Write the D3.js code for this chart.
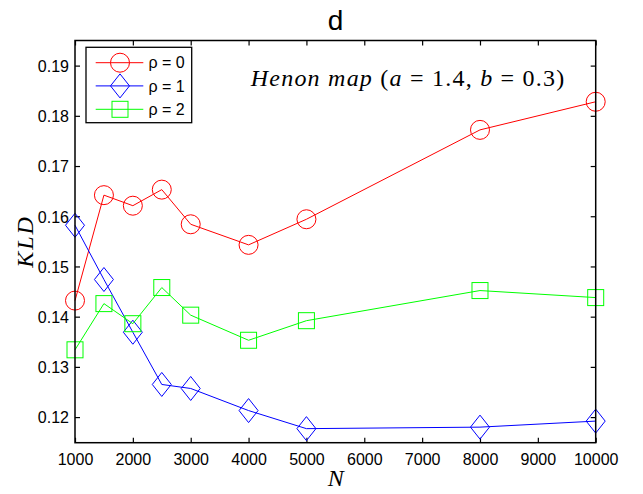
<!DOCTYPE html>
<html><head><meta charset="utf-8">
<script src="https://cdn.jsdelivr.net/npm/d3@7"></script>
<style>body{margin:0;background:#fff}svg{display:block}</style>
</head><body>
<svg id="c" width="643" height="494"></svg>
<script>
const N = [1000, 1500, 2000, 2500, 3000, 4000, 5000, 8000, 10000];
const rho0 = [0.1432, 0.1642, 0.1621, 0.1653, 0.1584, 0.1543, 0.1594, 0.1772, 0.1828];
const rho1 = [0.1582, 0.1474, 0.1369, 0.1265, 0.1257, 0.1213, 0.1177, 0.1180, 0.1192];
const rho2 = [0.1334, 0.1426, 0.1386, 0.1458, 0.1403, 0.1353, 0.1392, 0.1452, 0.1438];
const seriesNames = ["ρ = 0", "ρ = 1", "ρ = 2"];
const xTicks = [1000, 2000, 3000, 4000, 5000, 6000, 7000, 8000, 9000, 10000];
const yTicks = [0.12, 0.13, 0.14, 0.15, 0.16, 0.17, 0.18, 0.19];

const svg = d3.select("#c");
const L = 75, R = 595.7, T = 40.5, B = 442.7;
const x = d3.scaleLinear().domain([1000, 10000]).range([L, R]);
const y = d3.scaleLinear().domain([0.1149, 0.1950]).range([B, T]);

const series = [
  {name: seriesNames[0], vals: rho0, color: "#ff0000", marker: "circle"},
  {name: seriesNames[1], vals: rho1, color: "#0000ff", marker: "diamond"},
  {name: seriesNames[2], vals: rho2, color: "#00ff00", marker: "square"}
];

function drawMarker(g, type, cx, cy, color) {
  if (type === "circle") {
    g.append("circle").attr("cx", cx).attr("cy", cy).attr("r", 9.5)
      .attr("fill", "none").attr("stroke", color).attr("stroke-width", 1);
  } else if (type === "diamond") {
    g.append("path").attr("d", `M${cx},${cy-12}L${cx+9.5},${cy}L${cx},${cy+12}L${cx-9.5},${cy}Z`)
      .attr("fill", "none").attr("stroke", color).attr("stroke-width", 1);
  } else {
    g.append("rect").attr("x", cx-8).attr("y", cy-8).attr("width", 16).attr("height", 16)
      .attr("fill", "none").attr("stroke", color).attr("stroke-width", 1);
  }
}

// Title
svg.append("text").attr("x", 335.5).attr("y", 30).attr("text-anchor", "middle")
  .attr("font-family", "Liberation Sans, Arial, sans-serif").attr("font-size", 28).text("d");

// Axes
const fontTick = "Liberation Sans, Arial, sans-serif";
const gx = svg.append("g").attr("transform", `translate(0,${B})`)
  .call(d3.axisBottom(x).tickValues(xTicks).tickSize(-5).tickPadding(11).tickFormat(d3.format("d")));
const gxt = svg.append("g").attr("transform", `translate(0,${T})`)
  .call(d3.axisTop(x).tickValues(xTicks).tickSize(-5).tickFormat(""));
const gy = svg.append("g").attr("transform", `translate(${L},0)`)
  .call(d3.axisLeft(y).tickValues(yTicks).tickSize(-5).tickPadding(6).tickFormat(d3.format(".2f")));
const gyr = svg.append("g").attr("transform", `translate(${R},0)`)
  .call(d3.axisRight(y).tickValues(yTicks).tickSize(-5).tickFormat(""));
[gx, gxt, gy, gyr].forEach(g => {
  g.select(".domain").remove();
  g.selectAll("line").attr("stroke", "#000").attr("stroke-width", 1.2);
  g.selectAll("text").attr("font-family", fontTick).attr("font-size", 16).attr("fill", "#000");
});
gy.selectAll("text").attr("dy", "0.36em");

// Data
const plot = svg.append("g");
series.forEach(s => {
  const line = d3.line().x((d, i) => x(N[i])).y(d => y(d));
  plot.append("path").datum(s.vals).attr("d", line).attr("fill", "none")
    .attr("stroke", s.color).attr("stroke-width", 1);
  s.vals.forEach((v, i) => drawMarker(plot, s.marker, x(N[i]), y(v), s.color));
});

// Box
svg.append("rect").attr("x", L).attr("y", T).attr("width", R - L).attr("height", B - T)
  .attr("fill", "none").attr("stroke", "#000").attr("stroke-width", 1.5);

// Legend
const lg = svg.append("g");
lg.append("rect").attr("x", 86).attr("y", 47.3).attr("width", 105.7).attr("height", 75.4)
  .attr("fill", "#fff").attr("stroke", "#000").attr("stroke-width", 1.3);
const ly = [62.7, 85.9, 109.3];
series.forEach((s, i) => {
  lg.append("line").attr("x1", 95.7).attr("x2", 143.3).attr("y1", ly[i]).attr("y2", ly[i])
    .attr("stroke", s.color).attr("stroke-width", 1);
  drawMarker(lg, s.marker, 120, ly[i], s.color);
  lg.append("text").attr("x", 148.5).attr("y", ly[i]).attr("dy", "0.36em")
    .attr("font-family", fontTick).attr("font-size", 16).text(s.name);
});

// Annotation
const serif = "'Liberation Serif', 'Times New Roman', serif";
const ann = svg.append("text").attr("x", 250.7).attr("y", 85.5)
  .attr("font-family", serif).attr("font-size", 24)
  .attr("textLength", 313.6).attr("lengthAdjust", "spacing");
const parts = [["Henon map", true], [" (", false], ["a", true], [" = 1.4, ", false], ["b", true], [" = 0.3)", false]];
parts.forEach(p => ann.append("tspan").attr("font-style", p[1] ? "italic" : "normal").text(p[0]));

// Axis labels
svg.append("text").attr("x", 335.7).attr("y", 485.5).attr("text-anchor", "middle")
  .attr("font-family", serif).attr("font-style", "italic").attr("font-size", 24).text("N");
svg.append("text").attr("transform", "translate(32.5,241.5) rotate(-90)").attr("text-anchor", "middle")
  .attr("font-family", serif).attr("font-style", "italic").attr("font-size", 24)
  .attr("letter-spacing", 2).text("KLD");
</script>
</body></html>
